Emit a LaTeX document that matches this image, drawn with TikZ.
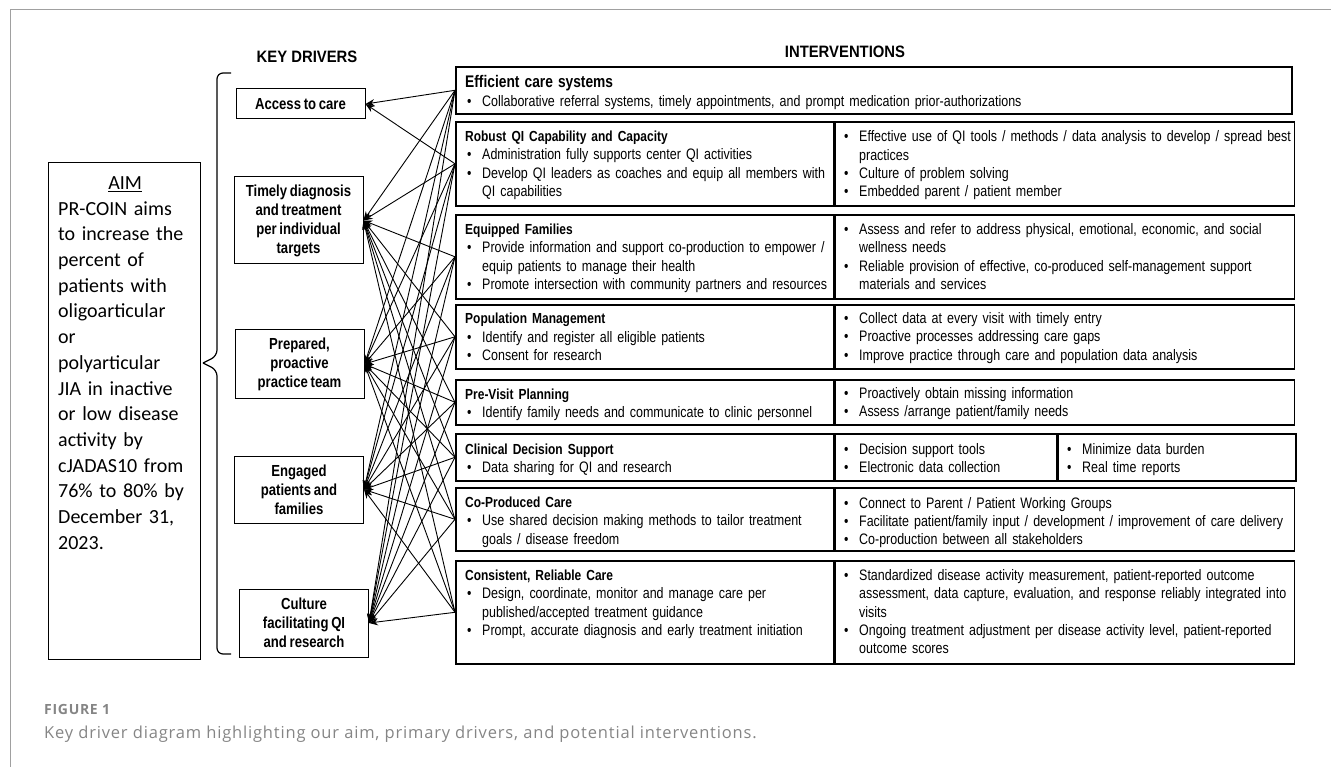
\documentclass[tikz,border=0pt]{standalone}
\usepackage{fontspec}
\usepackage{xcolor}
\usetikzlibrary{positioning,arrows.meta}
\newfontfamily\arialn[FakeStretch=0.82]{Liberation Sans}
\newfontfamily\arialnt[FakeStretch=0.82,WordSpace=0.75]{Liberation Sans}
\newfontfamily\headfont[FakeStretch=0.9]{Liberation Sans}
\newfontfamily\calibri{Carlito}
\newfontfamily\capfont[LetterSpace=5]{Open Sans}
\definecolor{capgray}{HTML}{858585}
\definecolor{framegray}{HTML}{A0A0A0}
\newcommand\bul{\makebox[17pt][l]{\hspace{2pt}\textbullet}}
\newcommand\ind{\hspace*{17pt}}
\newcommand\ivtitle[1]{{\bfseries\fontsize{14.6}{18.3}\selectfont #1}}

\begin{document}
\begin{tikzpicture}[x=1pt,y=-1pt,>={Stealth[length=9pt,width=7pt]}]
\tikzstyle{driver}=[rectangle, draw, line width=1pt, align=center, minimum width=129pt, font=\arialn\bfseries\fontsize{16}{19}\selectfont]
\tikzstyle{ivbox}=[rectangle, draw, line width=1.6pt, anchor=north west, inner sep=0pt]
\tikzstyle{ivtext}=[anchor=base west, inner sep=0pt, text width=600pt, align=left, font=\arialnt\fontsize{15.2}{18.3}\selectfont]
\tikzstyle{link}=[->, line width=0.9pt]

\useasboundingbox (0,0) rectangle (1331,767);
\draw[framegray, line width=1pt] (10,767) -- (10,10) -- (1331,10);

% aim
\node[draw, line width=1pt, minimum width=152pt, minimum height=496pt] (aim) at (124,411) {};
\node[anchor=base west, inner sep=0pt, text width=134pt, align=left, font=\calibri\fontsize{20}{25.7}\selectfont] (aimtxt) at (58,189.5)
  {\makebox[\linewidth][c]{\underline{AIM}}\\ PR-COIN aims\\ to increase the\\ percent of\\ patients with\\ oligoarticular\\ or\\ polyarticular\\ JIA in inactive\\ or low disease\\ activity by\\ cJADAS10 from\\ 76\% to 80\% by\\ December 31,\\ 2023.};
\draw[line width=1.2pt, rounded corners=6pt] (231,73) -- (217,73) -- (217,356) -- (203,363);
\draw[line width=1.2pt, rounded corners=6pt] (203,363) -- (217,370) -- (217,654) -- (231,654);

% key drivers
\node[font=\headfont\bfseries\fontsize{16.5}{18}\selectfont] (kdhead) at (307,57) {KEY DRIVERS};
\node[driver, minimum height=30pt] (access) at (300.5,104) {Access to care};
\node[driver, minimum height=87pt] (timely) at (298.5,220.5) {Timely diagnosis\\and treatment\\per individual\\targets};
\node[driver, minimum height=68pt] (prepared) at (299.5,364) {Prepared,\\proactive\\practice team};
\node[driver, minimum height=67pt] (engaged) at (299,489.5) {Engaged\\patients and\\families};
\node[driver, minimum height=68pt] (culture) at (304,623) {Culture\\facilitating QI\\and research};

% interventions
\node[font=\headfont\bfseries\fontsize{16.5}{18}\selectfont] (ivhead) at (845,52) {INTERVENTIONS};
\node[ivbox, minimum width=836pt, minimum height=47pt] (eff) at (455,66) {};
\node[ivbox, minimum width=378pt, minimum height=84pt] (robQI) at (455,121) {};
\node[ivbox, minimum width=378pt, minimum height=84pt] (equip) at (455,214) {};
\node[ivbox, minimum width=378pt, minimum height=64pt] (popmgmt) at (455,304) {};
\node[ivbox, minimum width=378pt, minimum height=45pt] (previsit) at (455,379) {};
\node[ivbox, minimum width=378pt, minimum height=47pt] (cds) at (455,433) {};
\node[ivbox, minimum width=378pt, minimum height=63pt] (coprod) at (455,487) {};
\node[ivbox, minimum width=378pt, minimum height=103pt] (consist) at (455,560) {};

\node[ivbox, minimum width=459pt, minimum height=84pt, right=0pt of robQI.north east, anchor=north west] (robQIr) {};
\node[ivbox, minimum width=459pt, minimum height=84pt, right=0pt of equip.north east, anchor=north west] (equipr) {};
\node[ivbox, minimum width=459pt, minimum height=64pt, right=0pt of popmgmt.north east, anchor=north west] (popmgmtr) {};
\node[ivbox, minimum width=459pt, minimum height=45pt, right=0pt of previsit.north east, anchor=north west] (previsitr) {};
\node[ivbox, minimum width=221pt, minimum height=47pt, right=0pt of cds.north east, anchor=north west] (cdsr) {};
\node[ivbox, minimum width=238pt, minimum height=47pt, right=0pt of cdsr.north east, anchor=north west] (cdsrr) {};
\node[ivbox, minimum width=459pt, minimum height=63pt, right=0pt of coprod.north east, anchor=north west] (coprodr) {};
\node[ivbox, minimum width=459pt, minimum height=103pt, right=0pt of consist.north east, anchor=north west] (consistr) {};

\node[ivtext] (efftxt) at (465,88) {{\bfseries\fontsize{16.8}{18.3}\selectfont Efficient care systems}\\
  \bul Collaborative referral systems, timely appointments, and prompt medication prior-authorizations};
\node[ivtext] (robQItxt) at (465,141.5) {\ivtitle{Robust QI Capability and Capacity}\\
  \bul Administration fully supports center QI activities\\
  \bul Develop QI leaders as coaches and equip all members with\\ \ind QI capabilities};
\node[ivtext] (equiptxt) at (465,234.5) {\ivtitle{Equipped Families}\\
  \bul Provide information and support co-production to empower /\\ \ind equip patients to manage their health\\
  \bul Promote intersection with community partners and resources};
\node[ivtext] (popmgmttxt) at (465,324) {\ivtitle{Population Management}\\
  \bul Identify and register all eligible patients\\
  \bul Consent for research};
\node[ivtext] (previsittxt) at (465,399.5) {\ivtitle{Pre-Visit Planning}\\
  \bul Identify family needs and communicate to clinic personnel};
\node[ivtext] (cdstxt) at (465,454.5) {\ivtitle{Clinical Decision Support}\\
  \bul Data sharing for QI and research};
\node[ivtext] (coprodtxt) at (465,507.5) {\ivtitle{Co-Produced Care}\\
  \bul Use shared decision making methods to tailor treatment\\ \ind goals / disease freedom};
\node[ivtext] (consisttxt) at (465,580.5) {\ivtitle{Consistent, Reliable Care}\\
  \bul Design, coordinate, monitor and manage care per\\ \ind published/accepted treatment guidance\\
  \bul Prompt, accurate diagnosis and early treatment initiation};

\node[ivtext] (robQIrtxt) at (842,142) {\bul Effective use of QI tools / methods / data analysis to develop / spread best\\ \ind practices\\
  \bul Culture of problem solving\\ \bul Embedded parent / patient member};
\node[ivtext] (equiprtxt) at (842,234.5) {\bul Assess and refer to address physical, emotional, economic, and social\\ \ind wellness needs\\
  \bul Reliable provision of effective, co-produced self-management support\\ \ind materials and services};
\node[ivtext] (popmgmtrtxt) at (842,323.5) {\bul Collect data at every visit with timely entry\\
  \bul Proactive processes addressing care gaps\\ \bul Improve practice through care and population data analysis};
\node[ivtext] (previsitrtxt) at (842,398.5) {\bul Proactively obtain missing information\\ \bul Assess /arrange patient/family needs};
\node[ivtext] (cdsrtxt) at (842,454.5) {\bul Decision support tools\\ \bul Electronic data collection};
\node[ivtext] (cdsrrtxt) at (1065,454.5) {\bul Minimize data burden\\ \bul Real time reports};
\node[ivtext] (coprodrtxt) at (842,508) {\bul Connect to Parent / Patient Working Groups\\
  \bul Facilitate patient/family input / development / improvement of care delivery\\ \bul Co-production between all stakeholders};
\node[ivtext] (consistrtxt) at (842,580.5) {\bul Standardized disease activity measurement, patient-reported outcome\\ \ind assessment, data capture, evaluation, and response reliably integrated into\\ \ind visits\\
  \bul Ongoing treatment adjustment per disease activity level, patient-reported\\ \ind outcome scores};

% links
\foreach \iv in {eff,robQI}
  \draw[link] (\iv.west) -- (access.east);
\foreach \iv in {eff,robQI,equip,popmgmt,previsit,cds,coprod,consist}
  \foreach \kd in {timely,prepared,engaged,culture}
    \draw[link] (\iv.west) -- (\kd.east);

% caption
\node[anchor=base west, inner sep=0pt, text=capgray, font=\capfont\bfseries\fontsize{14}{16}\selectfont] (figlabel) at (44,714) {FIGURE 1};
\node[anchor=base west, inner sep=0pt, text=capgray, font=\capfont\fontsize{16.5}{18}\selectfont] (figcap) at (44,738) {Key driver diagram highlighting our aim, primary drivers, and potential interventions.};
\end{tikzpicture}
\end{document}
